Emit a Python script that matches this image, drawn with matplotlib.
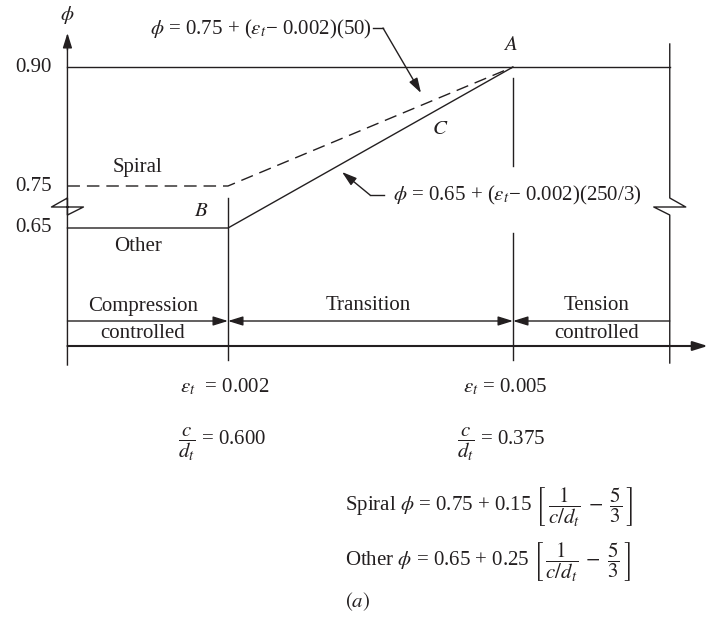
import numpy as np
import matplotlib.pyplot as plt
from matplotlib.transforms import blended_transform_factory

plt.rcParams['font.family'] = ['Liberation Serif', 'DejaVu Serif']
plt.rcParams['mathtext.fontset'] = 'stix'
plt.rcParams['font.size'] = 15
plt.rcParams['lines.scale_dashes'] = False

ink = '#231f20'
W, H = 708, 624

# strength reduction factor phi vs net tensile strain eps_t
eps_limits = [0.002, 0.005]
phi_ticks = [0.90, 0.75, 0.65]
phi_tick_labels = ['0.90', '0.75', '0.65']
spiral_phi = [0.75, 0.75, 0.90]
other_phi = [0.65, 0.65, 0.90]
eps_text = ['0.002', '0.005']
cd_text = ['0.600', '0.375']

# frame of the sketch, in strain units (schematic)
x_axis = 0.00031
x_right = 0.00665
x_tip = 0.00705
xmin, xmax = -0.0004, 0.0070526
px_per_eps = W / (xmax - xmin)

# phi axis is broken between 0.65 and 0.75
phi_knots = [0.0, 0.65, 0.75, 0.90, 1.0]
pos_knots = [0.0, 1 - 228 / H, 1 - 186 / H, 1 - 67 / H, 1.0]


def fwd(v):
    return np.interp(v, phi_knots, pos_knots)


def inv(v):
    return np.interp(v, pos_knots, phi_knots)


def fx(px):
    return px / W


def fy(py):
    return 1 - py / H


fig = plt.figure(figsize=(W / 100, H / 100), dpi=100)
ax = fig.add_axes([0, 0, 1, 1])
ax.set_yscale('function', functions=(fwd, inv))
ax.set_xlim(xmin, xmax)
ax.set_ylim(0, 1)
ax.axis('off')

bt = blended_transform_factory(ax.transData, ax.transAxes)
yt = blended_transform_factory(ax.transAxes, ax.transData)

# phi curves
xs = [x_axis] + eps_limits
ax.plot(xs, other_phi, color=ink, lw=1.0)
ax.plot(xs, spiral_phi, color=ink, lw=1.0, dashes=(9, 5))
ax.plot([x_axis, x_right], [phi_ticks[0]] * 2, color=ink, lw=1.0)


def vline(x, y0, y1, lw=1.0):
    ax.plot([x, x], [fy(y0), fy(y1)], transform=bt, color=ink, lw=lw)


def broken(x, y0, y1, side):
    d = side * 16 / px_per_eps
    px = [x, x, x + d, x - d, x, x]
    py = [y0, 198, 207, 207, 215, y1]
    ax.plot(px, [fy(p) for p in py], transform=bt, color=ink, lw=1.0)


def arrow(p0, p1, trans, style='-|>', lw=1.0):
    ax.annotate('', xy=p1, xytext=p0, xycoords=trans, textcoords=trans,
                arrowprops=dict(arrowstyle=style + ',head_length=0.9,head_width=0.28',
                                mutation_scale=10, color=ink, lw=lw,
                                shrinkA=0, shrinkB=0))


# limit lines
vline(eps_limits[0], 198, 360)
vline(eps_limits[1], 78, 166)
vline(eps_limits[1], 233, 360)

# left axis (broken) and right edge (broken)
broken(x_axis, 365, 45, -1)
arrow((x_axis, fy(50)), (x_axis, fy(33)), bt)
broken(x_right, 44, 363, 1)

# zone arrows and strain axis
yz = fy(321)
arrow((x_axis, yz), (eps_limits[0], yz), bt)
arrow((eps_limits[0], yz), (eps_limits[1], yz), bt, style='<|-|>')
arrow((x_right, yz), (eps_limits[1], yz), bt)
arrow((x_axis, fy(346)), (x_tip, fy(346)), bt, lw=1.5)

# leaders to the equations
ax.plot([fx(373), fx(383)], [fy(28), fy(28)], transform=ax.transAxes, color=ink, lw=1.0)
arrow((fx(383), fy(28)), (fx(421), fy(93)), ax.transAxes)
ax.plot([fx(384), fx(370)], [fy(195), fy(195)], transform=ax.transAxes, color=ink, lw=1.0)
arrow((fx(370), fy(195)), (fx(342), fy(172)), ax.transAxes)


def label(px, py, s, ha='center', **kw):
    ax.text(fx(px), fy(py), s, transform=ax.transAxes, ha=ha, va='center',
            color=ink, **kw)


for v, t in zip(phi_ticks, phi_tick_labels):
    ax.text(fx(52), v, t, transform=yt, ha='right', va='center', color=ink)

label(67, 15, r'$\phi$')
label(372, 29, r'$\phi$ = 0.75 + ($\varepsilon_t$− 0.002)(50)', ha='right')
label(393, 195, r'$\phi$ = 0.65 + ($\varepsilon_t$− 0.002)(250/3)', ha='left')
label(510, 45, r'$A$')
label(440, 130, r'$C$')
label(201, 212, r'$B$')
label(138, 168, 'Spiral')
label(138, 247, 'Other')

label(143, 306, 'Compression')
label(143, 333, 'controlled')
label(368, 306, 'Transition')
label(597, 306, 'Tension')
label(597, 333, 'controlled')

label(225, 387, r'$\varepsilon_t$  = ' + eps_text[0])
label(505, 387, r'$\varepsilon_t$ = ' + eps_text[1])
label(222, 444, r'$\dfrac{c}{d_t}$ = ' + cd_text[0])
label(501, 444, r'$\dfrac{c}{d_t}$ = ' + cd_text[1])
label(345, 507, r'Spiral $\phi$ = 0.75 + 0.15 $\left[\,\dfrac{1}{c/d_t}\;-\;\dfrac{5}{3}\,\right]$', ha='left')
label(345, 562, r'Other $\phi$ = 0.65 + 0.25 $\left[\,\dfrac{1}{c/d_t}\;-\;\dfrac{5}{3}\,\right]$', ha='left')
label(358, 602, r'$(a)$')

fig.savefig('out.png', dpi=100)
